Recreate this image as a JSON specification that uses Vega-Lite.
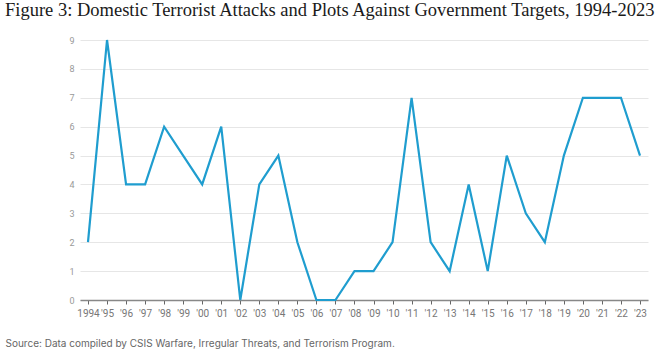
{
  "$schema": "https://vega.github.io/schema/vega-lite/v6.json",
  "width": 568,
  "height": 260,
  "autosize": "none",
  "padding": {"left": 80, "top": 40, "right": 22, "bottom": 54},
  "background": "white",
  "title": {
    "text": "Figure 3: Domestic Terrorist Attacks and Plots Against Government Targets, 1994-2023",
    "anchor": "start",
    "frame": "group",
    "dx": -75,
    "offset": 16,
    "font": "Liberation Serif",
    "fontSize": 18.5,
    "fontWeight": "normal",
    "color": "#1a1a1a"
  },
  "config": {"view": {"stroke": null}},
  "data": {
    "values": [
      {"year": 1994, "count": 2}, {"year": 1995, "count": 9}, {"year": 1996, "count": 4},
      {"year": 1997, "count": 4}, {"year": 1998, "count": 6}, {"year": 1999, "count": 5},
      {"year": 2000, "count": 4}, {"year": 2001, "count": 6}, {"year": 2002, "count": 0},
      {"year": 2003, "count": 4}, {"year": 2004, "count": 5}, {"year": 2005, "count": 2},
      {"year": 2006, "count": 0}, {"year": 2007, "count": 0}, {"year": 2008, "count": 1},
      {"year": 2009, "count": 1}, {"year": 2010, "count": 2}, {"year": 2011, "count": 7},
      {"year": 2012, "count": 2}, {"year": 2013, "count": 1}, {"year": 2014, "count": 4},
      {"year": 2015, "count": 1}, {"year": 2016, "count": 5}, {"year": 2017, "count": 3},
      {"year": 2018, "count": 2}, {"year": 2019, "count": 5}, {"year": 2020, "count": 7},
      {"year": 2021, "count": 7}, {"year": 2022, "count": 7}, {"year": 2023, "count": 5}
    ]
  },
  "mark": {"type": "line", "color": "#1f9dcf", "strokeWidth": 2.2, "strokeJoin": "miter"},
  "encoding": {
    "x": {
      "field": "year",
      "type": "quantitative",
      "scale": {"domain": [1993.58, 2023.42], "nice": false, "zero": false},
      "axis": {
        "values": [1994,1995,1996,1997,1998,1999,2000,2001,2002,2003,2004,2005,2006,2007,2008,2009,2010,2011,2012,2013,2014,2015,2016,2017,2018,2019,2020,2021,2022,2023],
        "labelExpr": "datum.value == 1994 ? '1994' : \"'\" + slice(toString(datum.value), 2)",
        "grid": false,
        "domainColor": "#888888",
        "domainWidth": 1.5,
        "tickColor": "#666666",
        "tickSize": 4,
        "labelColor": "#777777",
        "labelFont": "Roboto",
        "labelFontSize": 10,
        "labelPadding": 4,
        "labelFlush": false,
        "labelOverlap": false,
        "title": "Source: Data compiled by CSIS Warfare, Irregular Threats, and Terrorism Program.",
        "titleAnchor": "start",
        "titleAlign": "left",
        "titleX": -75,
        "titleY": 38,
        "titleFont": "Inter",
        "titleFontSize": 10,
        "titleFontWeight": "normal",
        "titleColor": "#666666"
      }
    },
    "y": {
      "field": "count",
      "type": "quantitative",
      "scale": {"domain": [0, 9], "nice": false},
      "axis": {
        "values": [0,1,2,3,4,5,6,7,8,9],
        "domain": false,
        "ticks": false,
        "gridColor": "#e6e6e6",
        "gridWidth": 1,
        "labelColor": "#999999",
        "labelFont": "Roboto",
        "labelFontSize": 9,
        "labelPadding": 6,
        "title": null
      }
    }
  }
}
